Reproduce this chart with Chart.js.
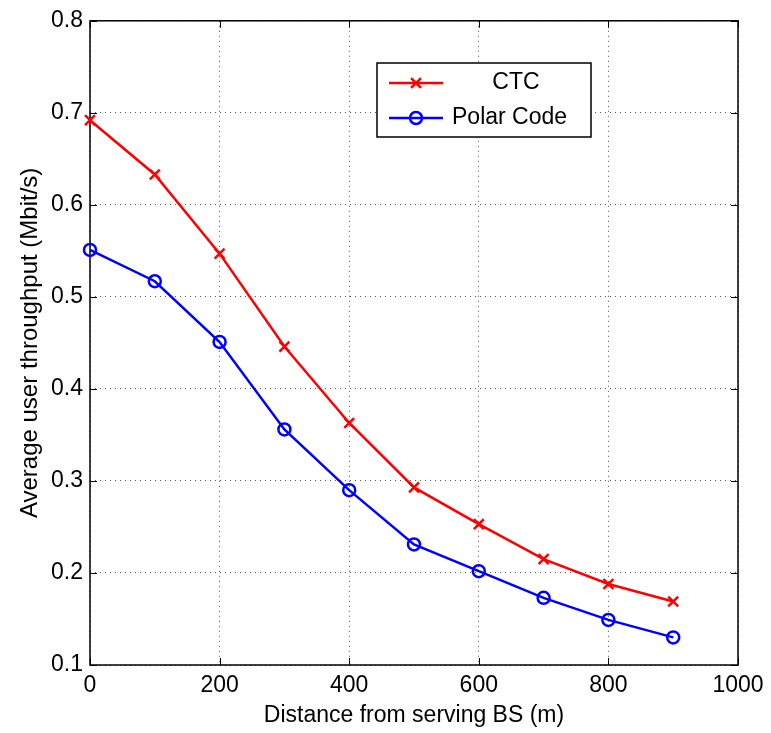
<!DOCTYPE html>
<html>
<head>
<meta charset="utf-8">
<script src="https://cdn.jsdelivr.net/npm/chart.js@4"></script>
<style>
  html, body { margin: 0; padding: 0; background: #fff; }
  #wrap { width: 771px; height: 733px; }
</style>
</head>
<body>
<div id="wrap"><canvas id="c" width="771" height="733"></canvas></div>
<script>
// ---- data ----
const distances = [0, 100, 200, 300, 400, 500, 600, 700, 800, 900];
const ctcValues = [0.692, 0.633, 0.547, 0.446, 0.363, 0.293, 0.253, 0.215, 0.188, 0.169];
const polarValues = [0.551, 0.517, 0.451, 0.356, 0.290, 0.231, 0.202, 0.173, 0.149, 0.130];
const seriesLabels = ['CTC', 'Polar Code'];
const xTicks = [0, 200, 400, 600, 800, 1000];
const yTicks = [0.1, 0.2, 0.3, 0.4, 0.5, 0.6, 0.7, 0.8];

const FONT = '"Liberation Sans", Arial, sans-serif';

const toPoints = (vals) => distances.map((d, i) => ({ x: d, y: vals[i] }));

// box + inward tick marks like matlab
const frame = {
    id: 'frame',
    beforeDatasetsDraw(chart) {
        const { ctx, chartArea: a, scales } = chart;
        ctx.save();
        ctx.strokeStyle = '#000';
        ctx.lineWidth = 1;
        ctx.beginPath();
        xTicks.forEach(t => {
            const px = Math.round(scales.x.getPixelForValue(t)) + 0.5;
            ctx.moveTo(px, a.bottom); ctx.lineTo(px, a.bottom - 7);
            ctx.moveTo(px, a.top); ctx.lineTo(px, a.top + 7);
        });
        yTicks.forEach(t => {
            const py = Math.round(scales.y.getPixelForValue(t)) + 0.5;
            ctx.moveTo(a.left, py); ctx.lineTo(a.left + 7, py);
            ctx.moveTo(a.right, py); ctx.lineTo(a.right - 7, py);
        });
        ctx.stroke();
        ctx.lineWidth = 1.5;
        ctx.strokeRect(a.left, a.top, a.right - a.left, a.bottom - a.top);
        ctx.restore();
    }
};

// legend box inside the plot, top right-ish
const boxLegend = {
    id: 'boxLegend',
    afterDraw(chart) {
        const { ctx } = chart;
        const x0 = 377, y0 = 63, w = 214, h = 74;
        ctx.save();
        ctx.fillStyle = '#fff';
        ctx.fillRect(x0, y0, w, h);
        ctx.strokeStyle = '#000';
        ctx.lineWidth = 1.5;
        ctx.strokeRect(x0, y0, w, h);
        const rows = [y0 + 20, y0 + 55];
        chart.data.datasets.forEach((ds, i) => {
            const y = rows[i];
            ctx.strokeStyle = ds.borderColor;
            ctx.lineWidth = ds.borderWidth;
            ctx.beginPath();
            ctx.moveTo(x0 + 12, y); ctx.lineTo(x0 + 66, y);
            ctx.stroke();
            ctx.fillStyle = 'rgba(0,0,0,0)';
            ctx.lineWidth = ds.pointBorderWidth;
            Chart.helpers.drawPoint(ctx, {
                pointStyle: ds.pointStyle, radius: ds.pointRadius,
                borderWidth: ds.pointBorderWidth, rotation: 0
            }, x0 + 39, y);
            ctx.fillStyle = '#000';
            ctx.font = '23px ' + FONT;
            ctx.textBaseline = 'middle';
            if (i === 0) {
                ctx.textAlign = 'center';
                ctx.fillText(ds.label, x0 + 139, y);
            } else {
                ctx.textAlign = 'left';
                ctx.fillText(ds.label, x0 + 75, y);
            }
        });
        ctx.restore();
    }
};

const config = {
    type: 'line',
    data: {
        datasets: [
            {
                label: seriesLabels[0],
                data: toPoints(ctcValues),
                borderColor: '#ff0000',
                backgroundColor: 'transparent',
                borderWidth: 2.5,
                pointStyle: 'crossRot',
                pointRadius: 7,
                pointBorderWidth: 2.5,
                tension: 0,
                clip: false
            },
            {
                label: seriesLabels[1],
                data: toPoints(polarValues),
                borderColor: '#0000ff',
                backgroundColor: 'transparent',
                borderWidth: 2.5,
                pointStyle: 'circle',
                pointRadius: 6,
                pointBorderWidth: 2.5,
                tension: 0,
                clip: false
            }
        ]
    },
    options: {
        responsive: false,
        animation: false,
        layout: { padding: { top: 16, right: 33, left: 0, bottom: 0 } },
        plugins: { legend: { display: false }, tooltip: { enabled: false } },
        scales: {
            x: {
                type: 'linear',
                min: 0, max: 1000,
                afterBuildTicks: (s) => { s.ticks = xTicks.map(v => ({ value: v })); },
                afterFit: (s) => { s.height = 68; },
                ticks: {
                    font: { size: 23, family: FONT }, color: '#000', padding: 7, maxRotation: 0,
                    callback: (v) => String(v)
                },
                grid: { color: '#555', drawTicks: false },
                border: { display: false, dash: [1, 4] },
                title: {
                    display: true, text: 'Distance from serving BS (m)',
                    font: { size: 23, family: FONT }, color: '#000',
                    padding: { top: 4, bottom: 4 }
                }
            },
            y: {
                min: 0.1, max: 0.8,
                afterBuildTicks: (s) => { s.ticks = yTicks.map(v => ({ value: v })); },
                afterFit: (s) => { s.width = 90; },
                ticks: {
                    font: { size: 23, family: FONT }, color: '#000', padding: 7,
                    callback: (v) => v.toFixed(1)
                },
                grid: { color: '#555', drawTicks: false },
                border: { display: false, dash: [1, 4] },
                title: {
                    display: true, text: 'Average user throughput (Mbit/s)',
                    font: { size: 24, family: FONT }, color: '#000',
                    padding: { top: 16, bottom: 16 }
                }
            }
        }
    },
    plugins: [frame, boxLegend]
};

new Chart(document.getElementById('c').getContext('2d'), config);
</script>
</body>
</html>
